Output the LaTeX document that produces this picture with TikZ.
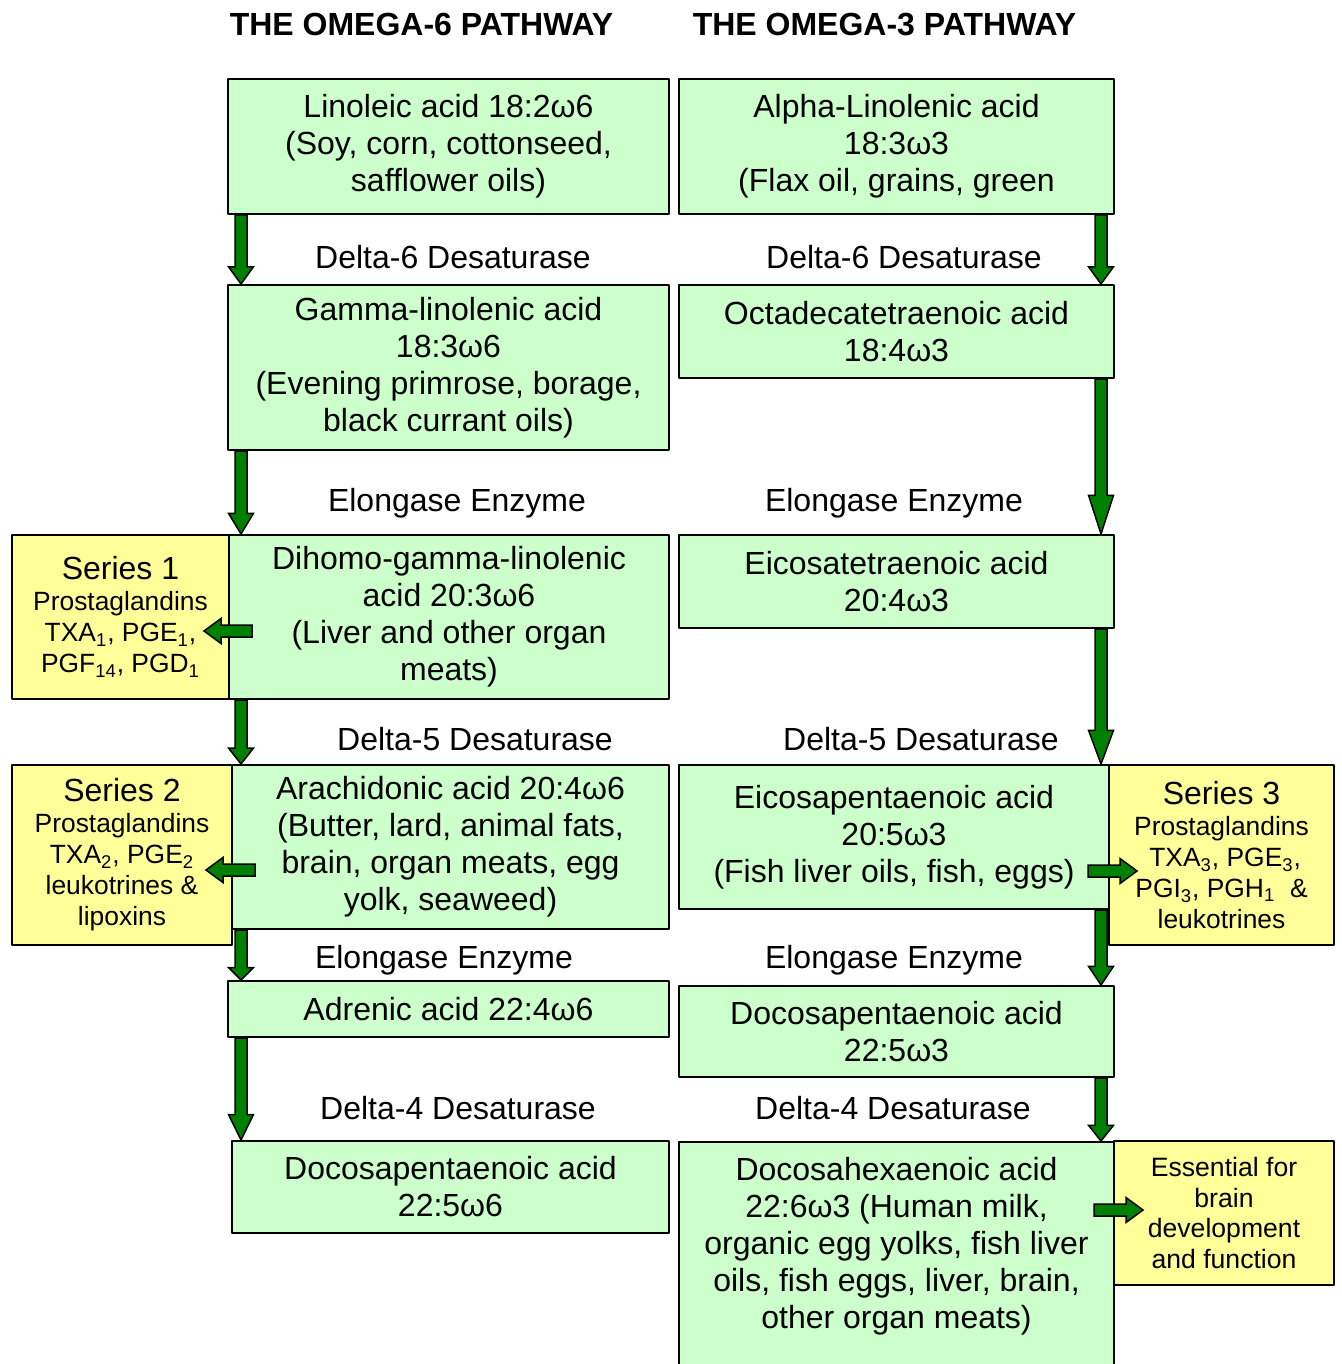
\documentclass[tikz,border=0pt]{standalone}
\usepackage{fontspec}
\setmainfont{Liberation Sans}
\usetikzlibrary{calc}
\definecolor{acidgreen}{HTML}{CCFFCC}
\definecolor{seriesyellow}{HTML}{FFFF99}
\definecolor{flowgreen}{HTML}{008000}
\newcommand{\vflow}[2]{%
  \draw[flow] let \p1=(#1), \p2=(#2), \n1={(\y1-\y2)/4} in
    (\x1-3pt,\y1) -- (\x1-3pt,\y2+\n1*1pt) -- (\x1-6.25pt,\y2+\n1*1pt) -- (\x1,\y2)
    -- (\x1+6.25pt,\y2+\n1*1pt) -- (\x1+3pt,\y2+\n1*1pt) -- (\x1+3pt,\y1) -- cycle;}
\newcommand{\hflow}[2]{%
  \draw[flow] let \p1=(#1), \p2=(#2), \n1={8.5*(\x1-\x2)/abs(\x1-\x2)} in
    (\x1,\y1-3pt) -- (\x2+\n1*1pt,\y1-3pt) -- (\x2+\n1*1pt,\y1-6.25pt) -- (\x2,\y1)
    -- (\x2+\n1*1pt,\y1+6.25pt) -- (\x2+\n1*1pt,\y1+3pt) -- (\x1,\y1+3pt) -- cycle;}
\tikzset{
  acid/.style={draw, line width=1pt, fill=acidgreen, align=center, inner sep=0pt,
    font=\fontsize{16}{18.5}\selectfont},
  series/.style={draw, line width=1pt, fill=seriesyellow, align=center, inner sep=0pt,
    font=\fontsize{13.2}{15.5}\selectfont},
  enzyme/.style={anchor=base, font=\fontsize{16}{18.5}\selectfont},
  heading/.style={anchor=base, font=\bfseries\fontsize{16}{18.5}\selectfont},
  flow/.style={draw=black, line width=0.75pt, fill=flowgreen, line join=miter}
}
\newcommand{\bigline}[1]{{\fontsize{16}{18.5}\selectfont #1}}

\begin{document}
\begin{tikzpicture}[line cap=round,line join=round, x=0.5pt, y=-0.5pt]
\clip (0,0) rectangle (1341,1364);
\fill[white] (0,0) rectangle (1341,1364);
\node[heading] (head6) at (421.5,36) {THE OMEGA-6 PATHWAY};
\node[heading] (head3) at (884.5,36) {THE OMEGA-3 PATHWAY};

\node[acid, minimum width=220.5pt, minimum height=67.5pt] (linoleic) at (448.5,146.5)
  {Linoleic acid 18:2ω6\\(Soy, corn, cottonseed,\\safflower oils)};
\node[acid, minimum width=217.5pt, minimum height=67.5pt] (alpha) at (896.5,146.5)
  {Alpha-Linolenic acid\\18:3ω3\\(Flax oil, grains, green};
\node[acid, minimum width=220.5pt, minimum height=82.5pt] (gamma) at (448.5,367.5)
  {Gamma-linolenic acid\\18:3ω6\\(Evening primrose, borage,\\black currant oils)};
\node[acid, minimum width=217.5pt, minimum height=46.5pt] (octa) at (896.5,331.5)
  {Octadecatetraenoic acid\\18:4ω3};
\node[acid, minimum width=220pt, minimum height=82pt] (dihomo) at (449,617)
  {Dihomo-gamma-linolenic\\acid 20:3ω6\\(Liver and other organ\\meats)};
\node[series, minimum width=108.5pt, minimum height=82pt] (series1) at (120.5,617)
  {\bigline{Series 1}\\Prostaglandins\\TXA\textsubscript{1}, PGE\textsubscript{1},\\PGF\textsubscript{14}, PGD\textsubscript{1}};
\node[acid, minimum width=217.5pt, minimum height=46.5pt] (eicosatetra) at (896.5,581.5)
  {Eicosatetraenoic acid\\20:4ω3};
\node[acid, minimum width=218.5pt, minimum height=82pt] (arachidonic) at (450.5,847)
  {Arachidonic acid 20:4ω6\\(Butter, lard, animal fats,\\brain, organ meats, egg\\yolk, seaweed)};
\node[series, minimum width=110pt, minimum height=90pt] (series2) at (122,855)
  {\bigline{Series 2}\\Prostaglandins\\TXA\textsubscript{2}, PGE\textsubscript{2}\\leukotrines \&\\lipoxins};
\node[acid, minimum width=215pt, minimum height=72pt] (epa) at (894,837)
  {Eicosapentaenoic acid\\20:5ω3\\(Fish liver oils, fish, eggs)};
\node[series, minimum width=112.5pt, minimum height=90pt] (series3) at (1221.5,855)
  {\bigline{Series 3}\\Prostaglandins\\\ TXA\textsubscript{3}, PGE\textsubscript{3},\\PGI\textsubscript{3}, PGH\textsubscript{1} \ \&\\leukotrines};
\node[acid, minimum width=220.5pt, minimum height=28pt] (adrenic) at (448.5,1009)
  {Adrenic acid 22:4ω6};
\node[acid, minimum width=217.5pt, minimum height=45.5pt] (dpa3) at (896.5,1031.5)
  {Docosapentaenoic acid\\22:5ω3};
\node[acid, minimum width=218.5pt, minimum height=46pt] (dpa6) at (450.5,1187)
  {Docosapentaenoic acid\\22:5ω6};
\node[acid, minimum width=217.5pt, minimum height=125pt, anchor=north] (dha) at (896.5,1141) {};
\node[align=center, font=\fontsize{16}{18.5}\selectfont] (dhatext) at (896.5,1246)
  {Docosahexaenoic acid\\22:6ω3 (Human milk,\\organic egg yolks, fish liver\\oils, fish eggs, liver, brain,\\other organ meats)};
\node[series, minimum width=110pt, minimum height=72pt, font=\fontsize{13.3}{15.2}\selectfont] (brain) at (1224,1213)
  {Essential for\\brain\\development\\and function};

\node[enzyme] (d6l) at (453,269) {Delta-6 Desaturase};
\node[enzyme] (d6r) at (904,269) {Delta-6 Desaturase};
\node[enzyme] (el1l) at (457,511) {Elongase Enzyme};
\node[enzyme] (el1r) at (894,511) {Elongase Enzyme};
\node[enzyme] (d5l) at (475,750) {Delta-5 Desaturase};
\node[enzyme] (d5r) at (921,750) {Delta-5 Desaturase};
\node[enzyme] (el2l) at (444,968) {Elongase Enzyme};
\node[enzyme] (el2r) at (894,968) {Elongase Enzyme};
\node[enzyme] (d4l) at (458,1119) {Delta-4 Desaturase};
\node[enzyme] (d4r) at (893,1119) {Delta-4 Desaturase};

\coordinate (lx) at (241,0);
\coordinate (rx) at (1101,0);
\vflow{linoleic.south -| lx}{gamma.north -| lx}
\vflow{gamma.south -| lx}{dihomo.north -| lx}
\vflow{dihomo.south -| lx}{arachidonic.north -| lx}
\vflow{arachidonic.south -| lx}{adrenic.north -| lx}
\vflow{adrenic.south -| lx}{dpa6.north -| lx}
\vflow{alpha.south -| rx}{octa.north -| rx}
\vflow{octa.south -| rx}{eicosatetra.north -| rx}
\vflow{eicosatetra.south -| rx}{epa.north -| rx}
\vflow{epa.south -| rx}{dpa3.north -| rx}
\vflow{dpa3.south -| rx}{dha.north -| rx}
\hflow{$(dihomo.west)+(24,14)$}{$(series1.east)+(-26,14)$}
\hflow{$(arachidonic.west)+(24,23)$}{$(series2.east)+(-27,23)$}
\hflow{$(epa.east)+(-22,34)$}{$(series3.west)+(29,34)$}
\hflow{$(dha.north east)+(-21,69)$}{$(brain.west)+(30,-3)$}
\end{tikzpicture}
\end{document}
